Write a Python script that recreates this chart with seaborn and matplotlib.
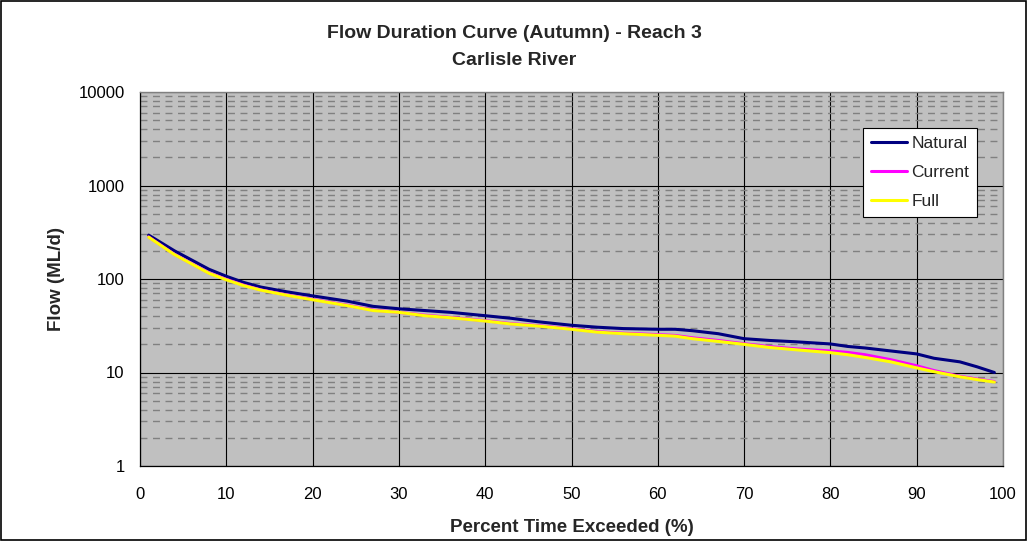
import matplotlib
matplotlib.use("Agg")
import matplotlib.pyplot as plt
import seaborn as sns
import pandas as pd
import numpy as np
from matplotlib.ticker import FixedLocator, FuncFormatter, LogLocator, NullFormatter
from matplotlib.patches import Rectangle

pct = [1, 4, 8, 10, 12, 14, 17, 20, 24, 27, 30, 33, 36, 40, 43, 46, 50, 53, 56, 60,
       62, 64, 67, 70, 73, 76, 80, 82, 84, 87, 90, 92, 95, 97, 99]
natural = [295, 200, 127, 107, 92, 82, 73, 66, 58, 51, 48, 46, 44, 40.5, 38, 35, 32, 30.5, 29.5, 29,
           29, 28, 26, 23, 22, 21.3, 20.2, 19, 18.3, 17, 15.8, 14.2, 13, 11.5, 10]
current = [282, 183, 116, 99, 86, 76.5, 67.5, 60.5, 52.5, 46.5, 44, 41, 38.8, 35.8, 33.3, 31.8, 29.3, 27.3, 26.3, 25.4,
           24.9, 23.5, 22, 20.3, 18.9, 17.9, 17, 16.4, 15.5, 13.7, 11.8, 10.5, 9.1, 8.5, 8.0]
full = [280, 182, 115, 98, 85, 76, 67, 60, 52, 46, 44, 40.5, 38.5, 35.5, 33, 31.5, 29, 27, 26, 25,
        24.5, 23, 21.5, 20, 18.5, 17.5, 16.3, 15.5, 14.5, 13, 11.2, 10.2, 9, 8.4, 7.9]
series_names = ["Natural", "Current", "Full"]
series_colors = ["#000080", "#FF00FF", "#FFFF00"]
y_ticks = [1, 10, 100, 1000, 10000]
x_ticks = [0, 10, 20, 30, 40, 50, 60, 70, 80, 90, 100]

df = pd.concat([
    pd.DataFrame({"pct": pct, "flow": vals, "series": name})
    for name, vals in zip(series_names, [natural, current, full])
])

sns.set_theme(style="white")
plt.rcParams["font.family"] = ["Liberation Sans", "DejaVu Sans"]

W, H = 1028, 541
fig = plt.figure(figsize=(W / 100, H / 100), dpi=100)
ax = fig.add_axes([140 / W, 1 - 466 / H, (1003 - 140) / W, (466 - 92) / H])
ax.set_facecolor("#C0C0C0")

sns.lineplot(data=df, x="pct", y="flow", hue="series", hue_order=series_names,
             palette=series_colors, linewidth=2.2, ax=ax, legend=False, zorder=5)

ax.set_yscale("log")
ax.set_ylim(1, 10000)
ax.set_xlim(0, 100)
ax.yaxis.set_major_locator(FixedLocator(y_ticks))
ax.yaxis.set_major_formatter(FuncFormatter(lambda v, p: f"{int(round(v))}"))
ax.yaxis.set_minor_locator(LogLocator(base=10, subs=np.arange(2, 10), numticks=20))
ax.yaxis.set_minor_formatter(NullFormatter())
ax.xaxis.set_major_locator(FixedLocator(x_ticks))

ax.grid(True, which="major", axis="both", color="black", linewidth=0.8, zorder=1)
ax.grid(True, which="minor", axis="y", color="#808080", linewidth=1.0, linestyle=(0, (5, 4)), zorder=1)
ax.set_axisbelow(True)

for s in ["left", "bottom"]:
    ax.spines[s].set_color("black")
    ax.spines[s].set_linewidth(0.9)
for s in ["top", "right"]:
    ax.spines[s].set_color("#808080")
    ax.spines[s].set_linewidth(1.0)

ax.tick_params(axis="both", which="major", direction="out", length=5, width=0.8,
               color="black", labelsize=12, labelcolor="black", pad=6)
ax.tick_params(axis="y", which="minor", length=0)
ax.tick_params(axis="x", pad=10)

ax.set_xlabel("Percent Time Exceeded (%)", fontsize=13.5, fontweight="bold", labelpad=12)
ax.set_ylabel("Flow (ML/d)", fontsize=13.5, fontweight="bold", labelpad=10)

fig.text(0.5, 1 - 37.5 / H, "Flow Duration Curve (Autumn) - Reach 3", ha="center", va="baseline",
         fontsize=14, fontweight="bold")
fig.text(0.5, 1 - 65 / H, "Carlisle River", ha="center", va="baseline",
         fontsize=14, fontweight="bold")

handles = [plt.Line2D([0], [0], color=c, linewidth=2.2) for c in series_colors]
leg = ax.legend(handles, series_names, loc="upper right", bbox_to_anchor=(977 / W, 1 - 128 / H),
                bbox_transform=fig.transFigure, frameon=True, fancybox=False, fontsize=12.5,
                handlelength=2.1, handletextpad=0.25, borderpad=0.45, labelspacing=0.8,
                borderaxespad=0)
leg.get_frame().set_edgecolor("black")
leg.get_frame().set_facecolor("white")
leg.get_frame().set_linewidth(0.8)
leg.get_frame().set_alpha(1)

fig.patches.append(Rectangle((0.001, 0.001), 0.997, 0.997, transform=fig.transFigure,
                             fill=False, edgecolor="black", linewidth=1.2))

fig.savefig("out.png", dpi=100, facecolor="white")
